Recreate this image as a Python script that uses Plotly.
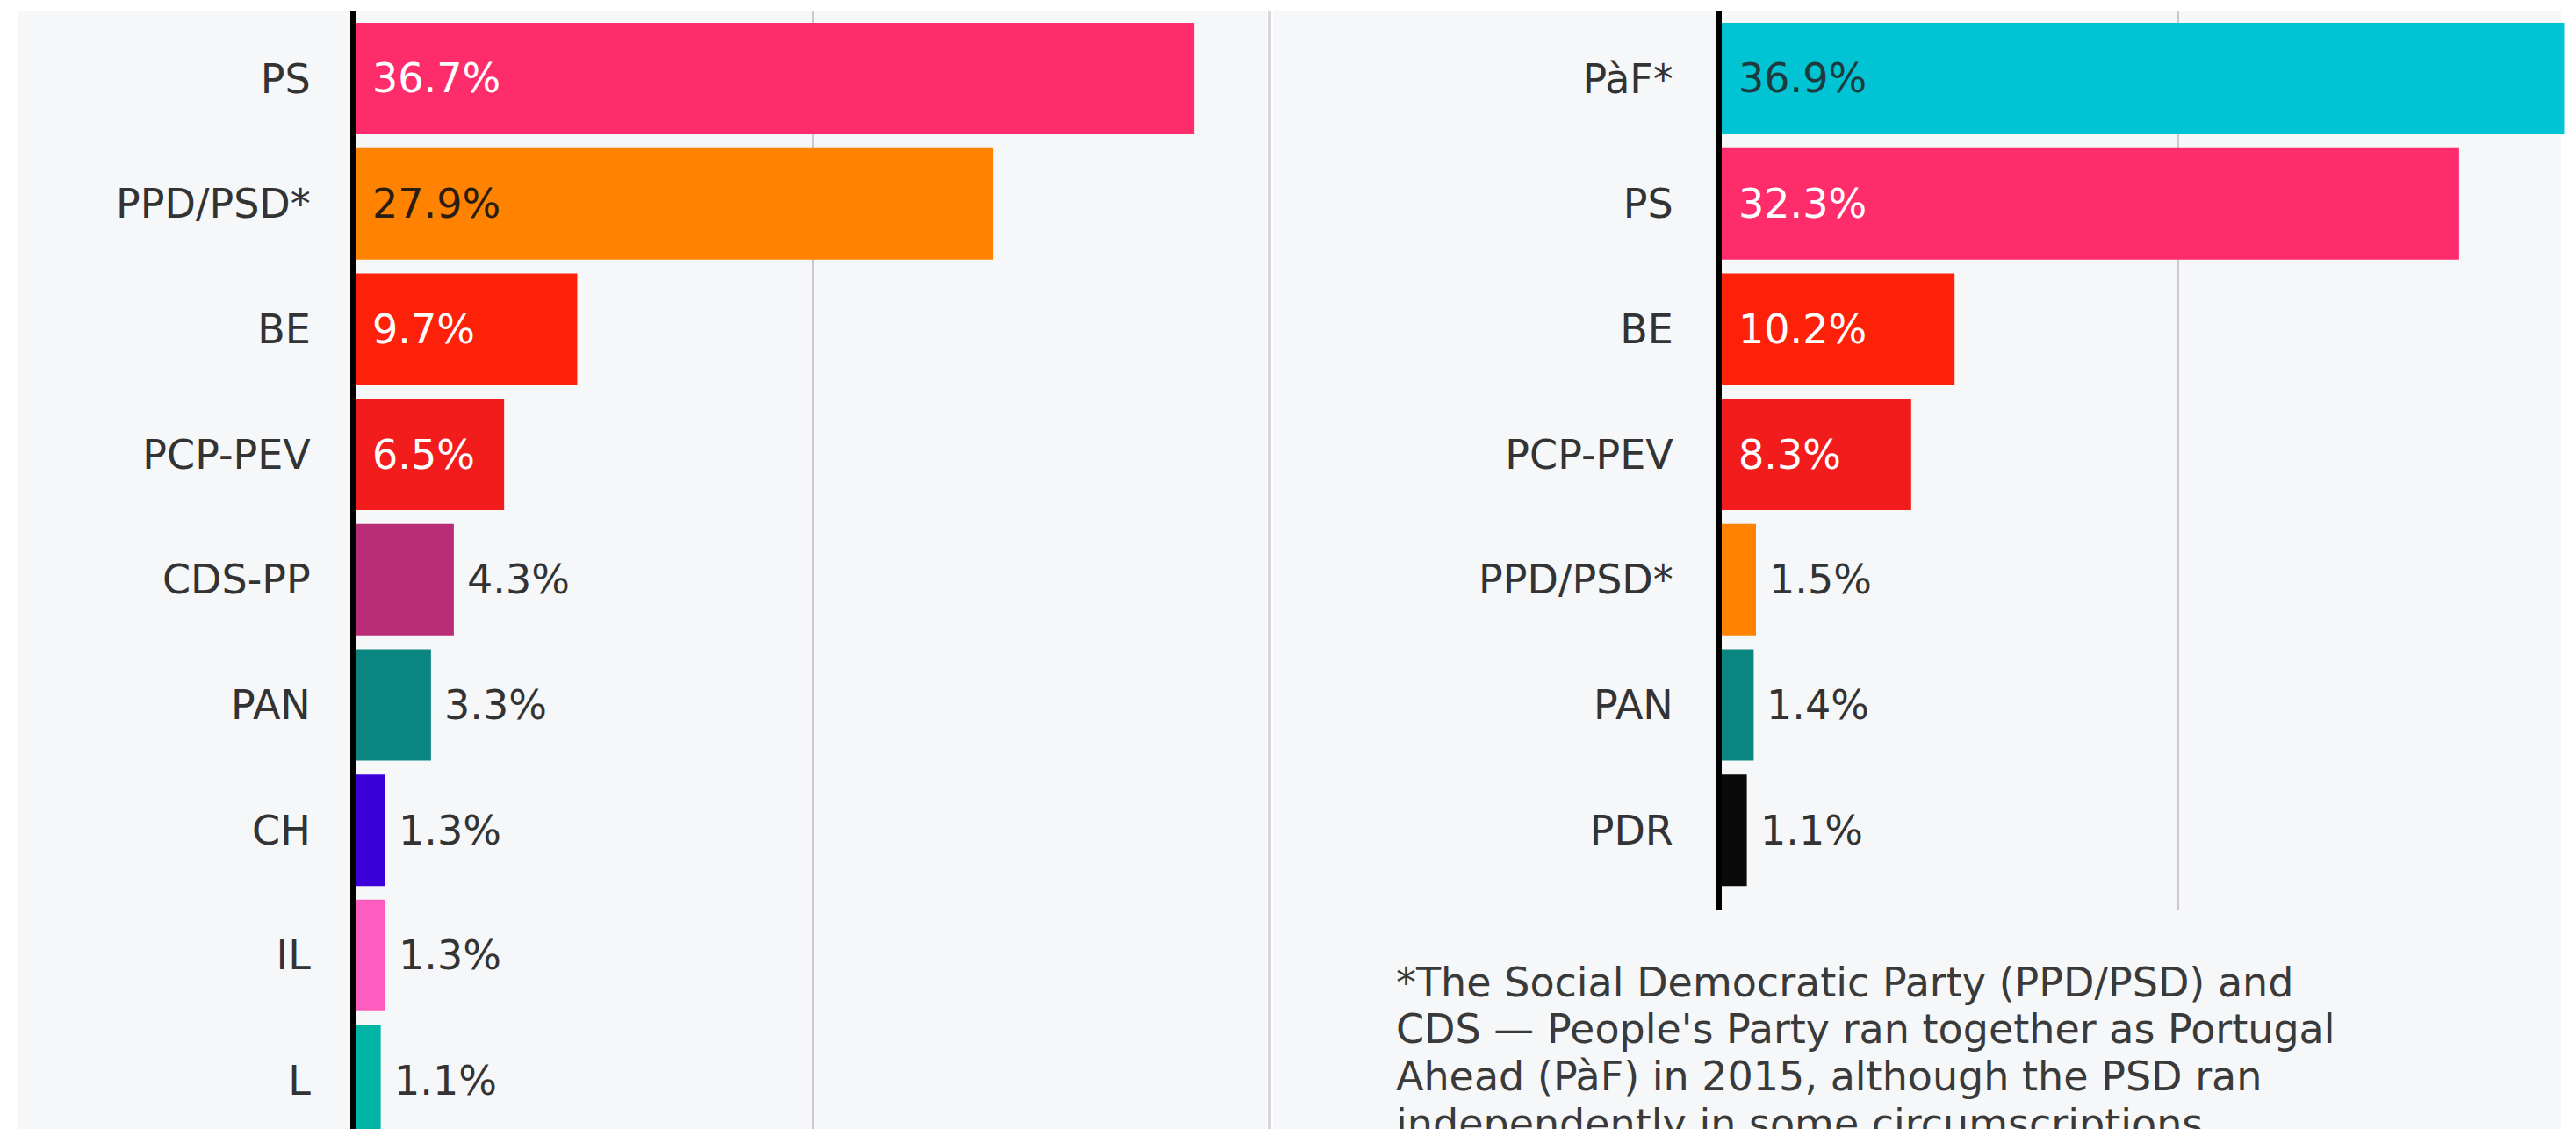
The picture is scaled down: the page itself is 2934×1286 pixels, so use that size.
import plotly.graph_objects as go

W, H = 2934, 1286

# ---- data ----
parties_2019 = ["PS", "PPD/PSD*", "BE", "PCP-PEV", "CDS-PP", "PAN", "CH", "IL", "L"]
votes_2019 = [36.7, 27.9, 9.7, 6.5, 4.3, 3.3, 1.3, 1.3, 1.1]
colors_2019 = ["#fe2c6a", "#ff8200", "#fc2108", "#f21c1c", "#b92c78",
               "#0b8580", "#3c00d8", "#ff5cbf", "#00b5a5"]
textcolors_2019 = ["#ffffff", "#2a1d12", "#ffffff", "#ffffff", "#333333",
                   "#333333", "#333333", "#333333", "#333333"]

parties_2015 = ["PàF*", "PS", "BE", "PCP-PEV", "PPD/PSD*", "PAN", "PDR"]
votes_2015 = [36.9, 32.3, 10.2, 8.3, 1.5, 1.4, 1.1]
colors_2015 = ["#00c4d4", "#fe2c6a", "#fc2108", "#f21c1c", "#ff8200",
               "#0b8580", "#0a0a0a"]
textcolors_2015 = ["#1d3b3e", "#ffffff", "#ffffff", "#ffffff", "#333333",
                   "#333333", "#333333"]

footnote_lines = [
    "*The Social Democratic Party (PPD/PSD) and",
    "CDS — People's Party ran together as Portugal",
    "Ahead (PàF) in 2015, although the PSD ran",
    "independently in some circumscriptions.",
]

FONT = "DejaVu Sans"
LABEL_SIZE = 46
BG = "#f6f7f9"

fig = go.Figure()
fig.add_trace(go.Bar(orientation="h", x=votes_2019, y=parties_2019,
                     marker=dict(color=colors_2019, line=dict(width=0)),
                     width=0.89, xaxis="x", yaxis="y", hoverinfo="skip"))
fig.add_trace(go.Bar(orientation="h", x=votes_2015, y=parties_2015,
                     marker=dict(color=colors_2015, line=dict(width=0)),
                     width=0.89, xaxis="x2", yaxis="y2", hoverinfo="skip"))

annotations = []
for parties, votes, tcols, xr, yr in [
        (parties_2019, votes_2019, textcolors_2019, "x", "y"),
        (parties_2015, votes_2015, textcolors_2015, "x2", "y2")]:
    for p, v, c in zip(parties, votes, tcols):
        inside = v > 5
        annotations.append(dict(
            x=0 if inside else v, y=p, xref=xr, yref=yr,
            xshift=17 if inside else 13, xanchor="left", yanchor="middle",
            text=f"{v:.1f}%", showarrow=False,
            font=dict(family=FONT, size=LABEL_SIZE, color=c)))

line_centers = [1119, 1172, 1226, 1280]
for txt, yc in zip(footnote_lines, line_centers):
    annotations.append(dict(
        x=1588 / W, y=1 - yc / H, xref="paper", yref="paper",
        xanchor="left", yanchor="middle", align="left", showarrow=False,
        text=txt, font=dict(family=FONT, size=46, color="#3a3a3a")))

shapes = [
    dict(type="rect", xref="paper", yref="paper", layer="below",
         x0=20 / W, x1=1443 / W, y0=0, y1=1 - 13 / H,
         fillcolor=BG, line=dict(width=0)),
    dict(type="rect", xref="paper", yref="paper", layer="below",
         x0=1450 / W, x1=2917 / W, y0=0, y1=1 - 13 / H,
         fillcolor=BG, line=dict(width=0)),
    dict(type="line", xref="paper", yref="paper", layer="below",
         x0=1446 / W, x1=1446 / W, y0=0, y1=1 - 13 / H,
         line=dict(color="#d7d7db", width=4)),
]

common_x = dict(showgrid=True, gridcolor="#c9c9cd", gridwidth=2, dtick=20, tick0=0,
                showticklabels=False, zeroline=False, showline=False, ticks="",
                fixedrange=True)
common_y = dict(type="category", showgrid=False, zeroline=False, showline=True,
                linecolor="#000000", linewidth=6, layer="above traces", ticks="",
                tickfont=dict(family=FONT, size=LABEL_SIZE, color="#333333"),
                fixedrange=True)

fig.update_layout(
    width=W, height=H,
    margin=dict(l=0, r=0, t=0, b=0),
    paper_bgcolor="#ffffff", plot_bgcolor="rgba(0,0,0,0)",
    showlegend=False, bargap=0.11,
    xaxis=dict(domain=[405 / W, 1446 / W], range=[0, 40], anchor="y", **common_x),
    yaxis=dict(domain=[0, 1 - 13 / H], range=[8.385, -0.536], anchor="x",
               ticklabelstandoff=36, **common_y),
    xaxis2=dict(domain=[1961 / W, 1], range=[0, 37.42], anchor="y2", **common_x),
    yaxis2=dict(domain=[1 - 1037 / H, 1 - 13 / H], range=[6.64, -0.536],
                anchor="x2", ticklabelstandoff=40, **common_y),
    annotations=annotations, shapes=shapes,
)

fig.write_html("out.html",
               config={"displayModeBar": False, "staticPlot": True},
               post_script="document.body.style.margin='0';"
                           "document.body.style.overflow='hidden';")
